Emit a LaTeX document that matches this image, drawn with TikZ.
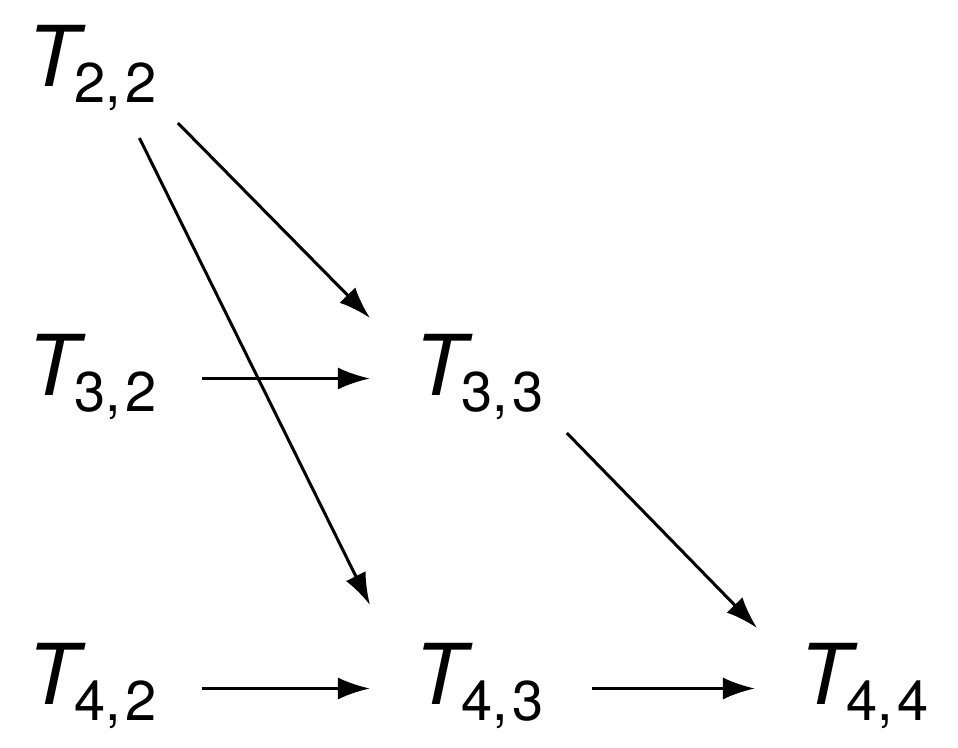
\documentclass[tikz,border=0pt]{standalone}
\usepackage{fontspec}
\setmainfont{TeX Gyre Heros}
\usetikzlibrary{arrows.meta}
\newcommand{\tsub}[2]{\textit{#1}\kern-3pt\raisebox{-4pt}{\fontsize{14}{16}\selectfont #2}}
\begin{document}
\begin{tikzpicture}[x=0.25pt,y=-0.25pt,
    lbl/.style={anchor=base west, inner sep=0pt, font=\fontsize{21}{24}\selectfont},
    arr/.style={-{Latex[length=8pt,width=5.5pt]}, line width=0.75pt}]
    \useasboundingbox (0,0) rectangle (958,748);
    \node[lbl] (t22) at (27,87) {\tsub{T}{2,\kern1.2pt2}};
    \node[lbl] (t32) at (27,396) {\tsub{T}{3,\kern1.2pt2}};
    \node[lbl] (t33) at (414,396) {\tsub{T}{3,\kern1.2pt3}};
    \node[lbl] (t42) at (27,705) {\tsub{T}{4,\kern1.2pt2}};
    \node[lbl] (t43) at (414,705) {\tsub{T}{4,\kern1.2pt3}};
    \node[lbl] (t44) at (799,705) {\tsub{T}{4,\kern1.2pt4}};
    \draw[arr] ([shift={(20,11)}]t22.south east) -- ([shift={(-44,-16)}]t33.north west);
    \draw[arr] ([shift={(47,26)}]t22.south) -- ([shift={(-44,-38)}]t43.north west);
    \draw[arr] ([shift={(44,1)}]t32.east) -- ([shift={(-44,1)}]t33.west);
    \draw[arr] ([shift={(22,12)}]t33.south east) -- ([shift={(-42,-15)}]t44.north west);
    \draw[arr] ([shift={(44,2)}]t42.east) -- ([shift={(-44,2)}]t43.west);
    \draw[arr] ([shift={(47,2)}]t43.east) -- ([shift={(-44,2)}]t44.west);
\end{tikzpicture}
\end{document}
